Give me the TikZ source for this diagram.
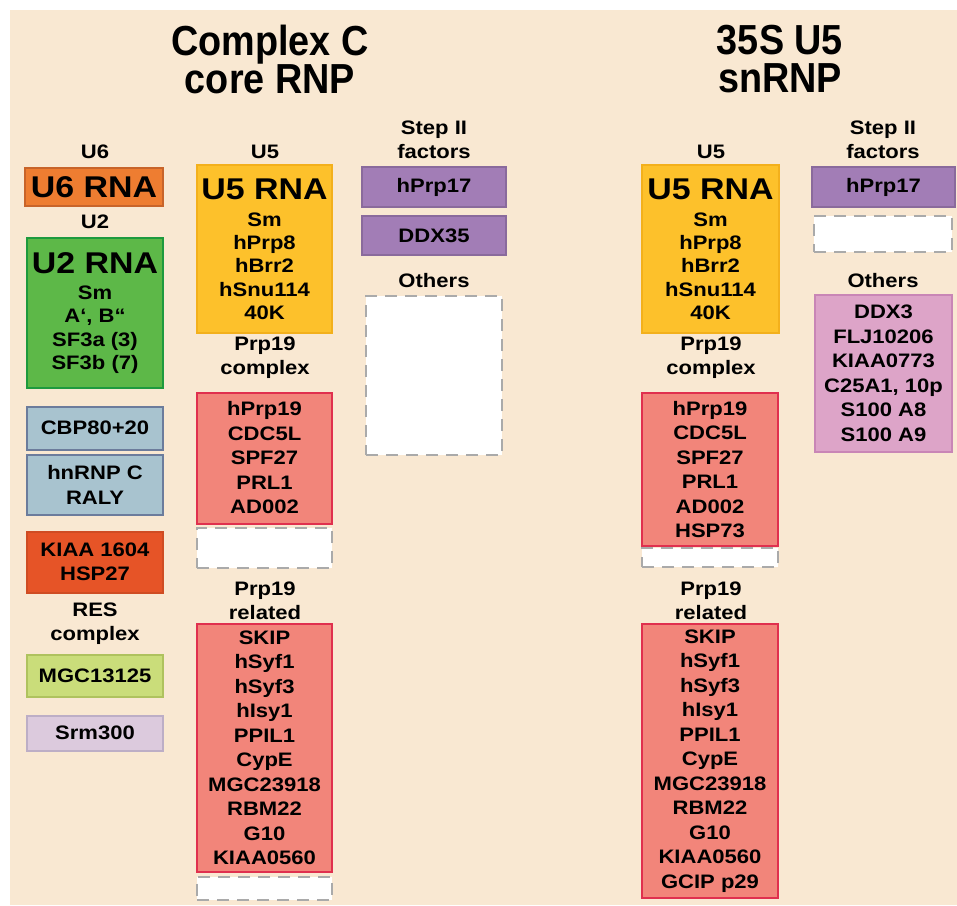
\documentclass[tikz,border=0pt]{standalone}
\usepackage{fontspec}
\setmainfont{Liberation Sans}
\newfontfamily\boxfont{Liberation Sans}[FakeStretch=1.13]
\newfontfamily\titlefont{Liberation Sans}[FakeStretch=0.9]

\definecolor{bgcol}{HTML}{F9E8D2}
\definecolor{u6fill}{HTML}{EE7D31}
\definecolor{u6line}{HTML}{C8642A}
\definecolor{u2fill}{HTML}{5DB848}
\definecolor{u2line}{HTML}{1E9A3E}
\definecolor{cbpfill}{HTML}{A8C3CF}
\definecolor{cbpline}{HTML}{6C7C9C}
\definecolor{kiaafill}{HTML}{E65427}
\definecolor{resfill}{HTML}{CADD7A}
\definecolor{resline}{HTML}{AFC25E}
\definecolor{srmfill}{HTML}{DCCADD}
\definecolor{srmline}{HTML}{BDAEC6}
\definecolor{u5fill}{HTML}{FDC12B}
\definecolor{u5line}{HTML}{F3B01C}
\definecolor{prpfill}{HTML}{F2857A}
\definecolor{prpline}{HTML}{E0304E}
\definecolor{stepfill}{HTML}{A27DB6}
\definecolor{stepline}{HTML}{8A6A9C}
\definecolor{othfill}{HTML}{DDA4C8}
\definecolor{othline}{HTML}{C986B6}
\definecolor{dashcol}{HTML}{AAAAAA}

\newcommand{\bigname}[1]{{\fontsize{30}{32}\selectfont #1}}

\begin{document}
\begin{tikzpicture}[x=1pt,y=-1pt,
  box/.style={draw, line width=2pt, minimum width=136, inner sep=0pt, align=center,
    font=\boxfont\bfseries\fontsize{19.5}{24.5}\selectfont},
  rnabox/.style={box, font=\boxfont\bfseries\fontsize{19.5}{23.2}\selectfont},
  blank/.style={draw=dashcol, fill=white, line width=2pt, dash pattern=on 12pt off 8pt,
    minimum width=136, inner sep=0pt},
  lbl/.style={align=center, inner sep=0pt, font=\boxfont\bfseries\fontsize{19.5}{24}\selectfont},
  title/.style={align=center, inner sep=0pt, font=\titlefont\bfseries\fontsize{42}{38}\selectfont}]
\useasboundingbox (0,0) rectangle (957,905);
\fill[bgcol] (10,10) rectangle (957,905);

\node (ttlC) at (270,59) [title]{Complex C\\core RNP};
\node (ttlU5) at (780,59) [title]{35S U5\\snRNP};

% Complex C
\node (u6) at (95,152) [lbl]{U6};
\node (u6rna) at (94,187) [box, fill=u6fill, draw=u6line, minimum width=138, minimum height=38]{\bigname{U6 RNA}};
\node (u2) at (95,222) [lbl]{U2};
\node (u2rna) at (95,313) [rnabox, fill=u2fill, draw=u2line, minimum height=150]{\bigname{U2 RNA}\\[3pt]Sm\\A‘, B“\\SF3a (3)\\SF3b (7)};
\node (cbp) at (95,428) [box, fill=cbpfill, draw=cbpline, minimum height=43]{CBP80+20};
\node (hnrnp) at (95,485) [box, fill=cbpfill, draw=cbpline, minimum height=60]{hnRNP C\\RALY};
\node (kiaa) at (95,562) [box, fill=kiaafill, draw=kiaafill!90!black, minimum height=61]{KIAA 1604\\HSP27};
\node (res) at (95,624) [lbl]{RES\\complex};
\node (mgc) at (95,676) [box, fill=resfill, draw=resline, minimum height=42]{MGC13125};
\node (srm) at (95,733) [box, fill=srmfill, draw=srmline, minimum height=35]{Srm300};

\node (u5a) at (265,152) [lbl]{U5};
\node (u5rnaA) at (264.5,249) [rnabox, fill=u5fill, draw=u5line, minimum width=135, minimum height=168]{\bigname{U5 RNA}\\[4pt]Sm\\hPrp8\\hBrr2\\hSnu114\\40K};
\node (prpA) at (265,358) [lbl]{Prp19\\complex};
\node (prpcA) at (264.5,458) [box, fill=prpfill, draw=prpline, minimum width=135, minimum height=131]{hPrp19\\CDC5L\\SPF27\\PRL1\\AD002};
\node (blankA) at (264.5,548) [blank, minimum width=135, minimum height=40]{};
\node (relA) at (265,601) [lbl]{Prp19\\related};
\node (prprA) at (264.5,748) [box, fill=prpfill, draw=prpline, minimum width=135, minimum height=248]{SKIP\\hSyf1\\hSyf3\\hIsy1\\PPIL1\\CypE\\MGC23918\\RBM22\\G10\\KIAA0560};
\node (blankB) at (264.5,888) [blank, minimum width=135, minimum height=23]{};

\node (stepA) at (434,140) [lbl]{Step II\\factors};
\node (p17A) at (434,187) [box, fill=stepfill, draw=stepline, minimum width=144, minimum height=40]{hPrp17};
\node (ddx) at (434,235.5) [box, fill=stepfill, draw=stepline, minimum width=144, minimum height=39]{DDX35};
\node (othA) at (434,281) [lbl]{Others};
\node (blankC) at (434,375.5) [blank, minimum height=159]{};

% 35S U5 snRNP
\node (u5b) at (711,152) [lbl]{U5};
\node (u5rnaB) at (710.5,249) [rnabox, fill=u5fill, draw=u5line, minimum width=137, minimum height=168]{\bigname{U5 RNA}\\[4pt]Sm\\hPrp8\\hBrr2\\hSnu114\\40K};
\node (prpB) at (711,358) [lbl]{Prp19\\complex};
\node (prpcB) at (710,469.5) [box, fill=prpfill, draw=prpline, minimum width=136, minimum height=153]{hPrp19\\CDC5L\\SPF27\\PRL1\\AD002\\HSP73};
\node (blankD) at (710,557.5) [blank, minimum width=136, minimum height=19]{};
\node (relB) at (711,601) [lbl]{Prp19\\related};
\node (prprB) at (710,761) [box, fill=prpfill, draw=prpline, minimum width=136, minimum height=274]{SKIP\\hSyf1\\hSyf3\\hIsy1\\PPIL1\\CypE\\MGC23918\\RBM22\\G10\\KIAA0560\\GCIP p29};

\node (stepB) at (883,140) [lbl]{Step II\\factors};
\node (p17B) at (883.5,187) [box, fill=stepfill, draw=stepline, minimum width=143, minimum height=40]{hPrp17};
\node (blankE) at (883,234) [blank, minimum width=138, minimum height=36]{};
\node (othB) at (883,281) [lbl]{Others};
\node (othbox) at (883.5,373.5) [box, fill=othfill, draw=othline, minimum width=137, minimum height=157]{DDX3\\FLJ10206\\KIAA0773\\C25A1, 10p\\S100 A8\\S100 A9};
\end{tikzpicture}
\end{document}
